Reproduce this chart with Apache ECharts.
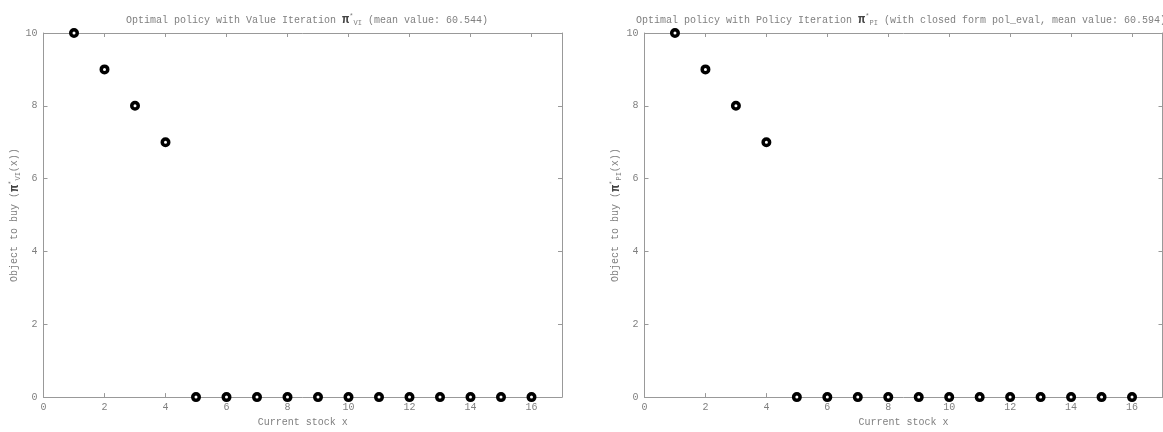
<!DOCTYPE html>
<html>
<head>
<meta charset="utf-8">
<script src="https://cdn.jsdelivr.net/npm/echarts@6/dist/echarts.min.js"></script>
<style>html,body{margin:0;padding:0;background:#fff;}#c{width:1163px;height:432px;}</style>
</head>
<body>
<div id="c"></div>
<script>
const stockX = [1,2,3,4,5,6,7,8,9,10,11,12,13,14,15,16];
const policyVI = [10,9,8,7,0,0,0,0,0,0,0,0,0,0,0,0];
const policyPI = [10,9,8,7,0,0,0,0,0,0,0,0,0,0,0,0];
const xTicks = [0,2,4,6,8,10,12,14,16];
const yTicks = [0,2,4,6,8,10];

const FONT = '"Liberation Mono", "DejaVu Sans Mono", monospace';
const TXT = '#808080';
const AX = '#999';

const rich = {
  t: {fontFamily: FONT, fontSize: 10, fontWeight: 'normal', color: TXT},
  pi: {fontFamily: FONT, fontSize: 12, fontWeight: 'bold', color: '#444'},
  sup: {fontFamily: FONT, fontSize: 7, fontWeight: 'normal', color: TXT, verticalAlign: 'top', lineHeight: 14},
  sub: {fontFamily: FONT, fontSize: 7, fontWeight: 'normal', color: TXT, verticalAlign: 'bottom', lineHeight: 14}
};

const chart = echarts.init(document.getElementById('c'));
function xAxis(i) {
  return [{
    gridIndex: i, type: 'value', min: 0, max: 17, interval: 2,
    name: 'Current stock x', nameLocation: 'middle', nameGap: 17,
    nameTextStyle: {fontFamily: FONT, fontSize: 10, color: TXT},
    axisLine: {show: true, onZero: false, lineStyle: {color: AX}},
    axisTick: {inside: true, length: 4, lineStyle: {color: AX}},
    axisLabel: {fontFamily: FONT, fontSize: 10, color: TXT, showMaxLabel: false, margin: 5},
    splitLine: {show: false}
  }, {
    gridIndex: i, type: 'value', min: 0, max: 17, interval: 2, position: 'top',
    axisLine: {show: true, onZero: false, lineStyle: {color: AX}},
    axisTick: {inside: true, length: 4, lineStyle: {color: AX}},
    axisLabel: {show: false}, splitLine: {show: false}
  }];
}
function yAxis(i, sub) {
  return [{
    gridIndex: i, type: 'value', min: 0, max: 10, interval: 2,
    name: '{t|Object to buy (}{pi|π}{sup|*}{sub|' + sub + '}{t|(x))}',
    nameLocation: 'middle', nameGap: 19,
    nameTextStyle: {rich: rich},
    axisLine: {show: true, onZero: false, lineStyle: {color: AX}},
    axisTick: {inside: true, length: 4, lineStyle: {color: AX}},
    axisLabel: {fontFamily: FONT, fontSize: 10, color: TXT, margin: 6},
    splitLine: {show: false}
  }, {
    gridIndex: i, type: 'value', min: 0, max: 10, interval: 2, position: 'right',
    axisLine: {show: true, onZero: false, lineStyle: {color: AX}},
    axisTick: {inside: true, length: 4, lineStyle: {color: AX}},
    axisLabel: {show: false}, splitLine: {show: false}
  }];
}
function pts(vals) { return stockX.map((x, k) => [x, vals[k]]); }
const marker = {
  type: 'scatter', symbol: 'circle', symbolSize: 6.5,
  itemStyle: {color: '#fff', borderColor: '#000', borderWidth: 3.5, opacity: 1},
  emphasis: {disabled: true}, z: 5
};
chart.setOption({
  animation: false,
  title: [{
    text: '{t|Optimal policy with Value Iteration }{pi|π}{sup|*}{sub|VI}{t| (mean value: 60.544)}',
    left: 302, top: 8, textAlign: 'center', textStyle: {rich: rich}
  }, {
    text: '{t|Optimal policy with Policy Iteration }{pi|π}{sup|*}{sub|PI}{t| (with closed form pol_eval, mean value: 60.594)}',
    left: 896, top: 8, textAlign: 'center', textStyle: {rich: rich}
  }],
  grid: [
    {left: 43.5, right: 1163 - 562, top: 33, bottom: 29},
    {left: 644.5, right: 0.5, top: 33, bottom: 29}
  ],
  xAxis: [...xAxis(0), ...xAxis(1)],
  yAxis: [...yAxis(0, 'VI'), ...yAxis(1, 'PI')],
  series: [
    Object.assign({}, marker, {xAxisIndex: 0, yAxisIndex: 0, data: pts(policyVI), clip: false}),
    Object.assign({}, marker, {xAxisIndex: 2, yAxisIndex: 2, data: pts(policyPI), clip: false})
  ]
});
</script>
</body>
</html>
